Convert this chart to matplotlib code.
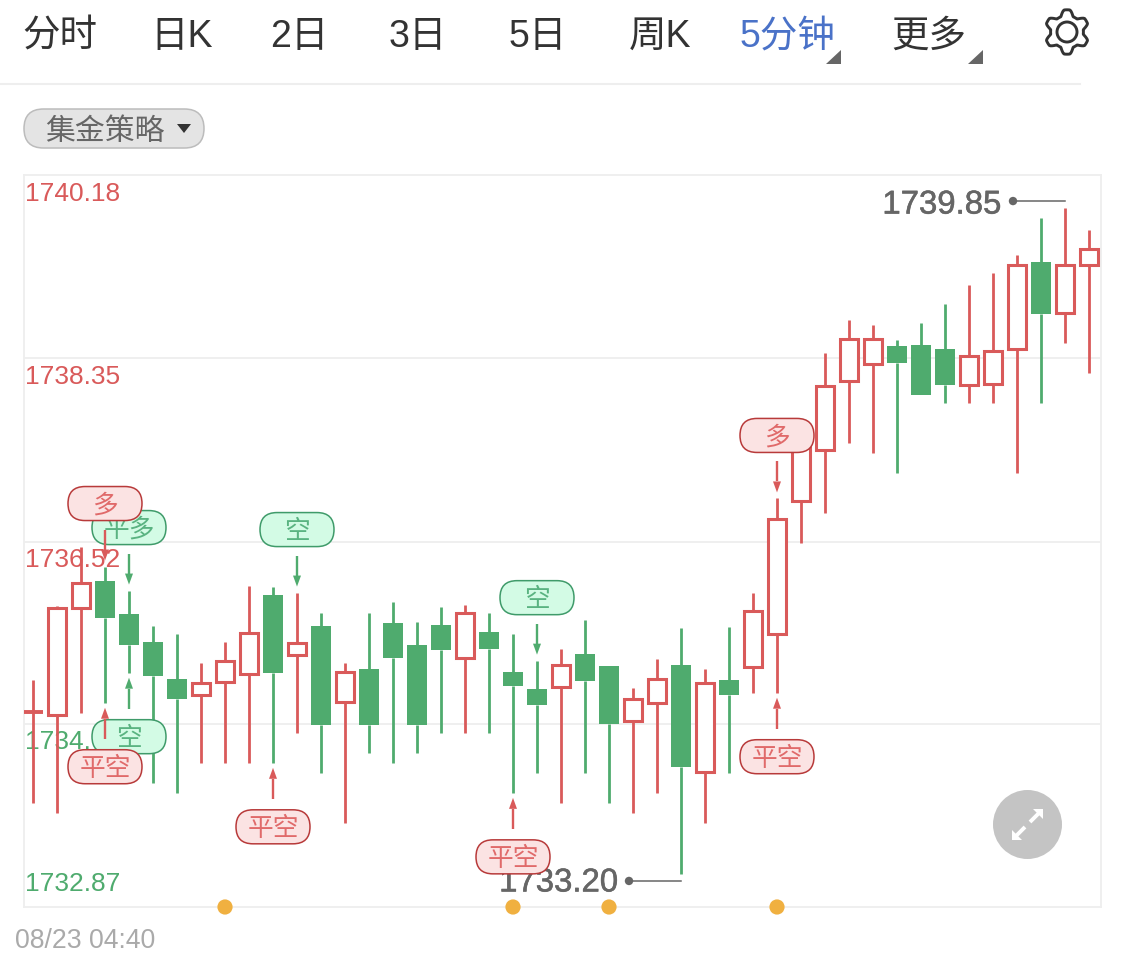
import numpy as np
import matplotlib
matplotlib.use("Agg")
import matplotlib.pyplot as plt
import matplotlib.patheffects as pe
from matplotlib.patches import FancyBboxPatch, Circle, Polygon, Rectangle

plt.rcParams['font.family'] = ['Noto Sans CJK SC', 'DejaVu Sans']

# ---- data ----
highs = [1735.14,1735.88,1736.47,1736.27,1736.03,1735.68,1735.60,1735.31,1735.52,1736.08,
         1736.07,1736.01,1735.81,1735.31,1735.81,1735.92,1735.72,1735.87,1735.89,1735.81,
         1735.60,1735.33,1735.45,1735.74,1735.28,1735.06,1735.35,1735.66,1735.25,1735.67,
         1736.01,1736.95,1737.53,1738.40,1738.73,1738.68,1738.53,1738.70,1738.89,1739.08,
         1739.20,1739.38,1739.75,1739.85,1739.63]
lows = [1733.91,1733.81,1734.81,1734.91,1735.21,1734.11,1734.01,1734.31,1734.31,1734.31,
        1734.31,1734.61,1734.21,1733.71,1734.41,1734.31,1734.41,1734.61,1734.61,1734.61,
        1734.01,1734.21,1733.91,1734.21,1733.91,1733.81,1734.01,1733.20,1733.71,1734.21,
        1735.01,1735.01,1736.51,1736.80,1737.50,1737.40,1737.20,1737.98,1737.90,1737.90,
        1737.90,1737.20,1737.90,1738.50,1738.20]
opens = [1734.82,1734.79,1735.86,1736.13,1735.80,1735.52,1735.15,1734.99,1735.12,1735.20,
         1735.99,1735.39,1735.68,1734.92,1735.25,1735.71,1735.49,1735.69,1735.36,1735.62,
         1735.22,1735.05,1735.07,1735.40,1735.28,1734.73,1734.91,1735.29,1734.22,1735.14,
         1735.27,1735.60,1736.92,1737.43,1738.12,1738.29,1738.47,1738.48,1738.44,1738.08,
         1738.09,1738.44,1739.31,1738.80,1739.28]
closes = [1734.82,1735.86,1736.11,1735.76,1735.49,1735.18,1734.95,1735.11,1735.33,1735.61,
          1735.21,1735.51,1734.69,1735.22,1734.69,1735.36,1734.69,1735.44,1735.81,1735.45,
          1735.08,1734.89,1735.29,1735.13,1734.70,1734.95,1735.15,1734.27,1735.11,1734.99,
          1735.83,1736.74,1737.48,1738.07,1738.54,1738.54,1738.30,1737.98,1738.08,1738.37,
          1738.42,1739.28,1738.79,1739.28,1739.44]
y_ticks = [1740.18, 1738.35, 1736.52, 1734.70, 1732.87]
y_tick_labels = ['1740.18', '1738.35', '1736.52', '1734.70', '1732.87']
tabs = ['分时', '日K', '2日', '3日', '5日', '周K', '5分钟', '更多']
strategy_label = '集金策略'
date_label = '08/23 04:40'
signal_idx = [4, 11, 21, 3, 31, 4, 3, 10, 20, 31]
signal_text = ['平多', '空', '空', '多', '多', '空', '平空', '平空', '平空', '平空']
signal_side = ['high', 'high', 'high', 'high', 'high', 'low', 'low', 'low', 'low', 'low']
signal_kind = ['g', 'g', 'g', 'r', 'r', 'g', 'r', 'r', 'r', 'r']
dot_idx = [8, 20, 24, 31]

# ---- style ----
RED, GREEN = '#d95a5a', '#4fab6e'
GRID = '#eeeeee'
W, H = 1125, 959
L, R, T, B = 24, 1101, 175, 907
CANDLE_W = 0.82
LATIN_CJK = ['Liberation Sans', 'Noto Sans CJK SC']

fig = plt.figure(figsize=(W / 100, H / 100), dpi=100, facecolor='white')
ax = fig.add_axes([L / W, 1 - B / H, (R - L) / W, (B - T) / H])
ax.set_xlim(-0.375, 44.5)
ax.set_ylim(y_ticks[-1], y_ticks[0])
ax.set_xticks([])
ax.set_yticks(y_ticks[1:-1])
ax.set_yticklabels([])
ax.tick_params(length=0)
ax.grid(axis='y', color=GRID, lw=1.3)
ax.set_axisbelow(True)
for s in ax.spines.values():
    s.set_color(GRID)
    s.set_linewidth(1.3)

# y labels inside the plot
for i, (v, t) in enumerate(zip(y_ticks, y_tick_labels)):
    col = RED if i < 3 else GREEN
    last = i == len(y_ticks) - 1
    ax.annotate(t, xy=(0, v), xycoords=('axes fraction', 'data'),
                xytext=(1, 16.5 if last else -13.5), textcoords='offset points',
                ha='left', va='center', fontsize=19, color=col,
                family=['Liberation Sans'], zorder=2)

# candles
for i, (o, h, l, c) in enumerate(zip(opens, highs, lows, closes)):
    up = c >= o
    col = RED if up else GREEN
    top, bot = max(o, c), min(o, c)
    ax.plot([i, i], [top, h], color=col, lw=2.0, solid_capstyle='butt', zorder=3)
    ax.plot([i, i], [l, bot], color=col, lw=2.0, solid_capstyle='butt', zorder=3)
    if top - bot < 0.02:
        ax.plot([i - CANDLE_W / 2, i + CANDLE_W / 2], [top, top], color=col, lw=2.8,
                solid_capstyle='butt', zorder=4)
    elif up:
        ax.add_patch(Rectangle((i - 0.375, bot), 0.75, top - bot, fc='white', ec=col,
                               lw=2.2, zorder=4, joinstyle='miter'))
    else:
        ax.add_patch(Rectangle((i - CANDLE_W / 2 - 0.02, bot), CANDLE_W + 0.04, top - bot,
                               fc=col, ec='none', zorder=4))

# overlay in pixel space for interface furniture and annotations
ov = fig.add_axes([0, 0, 1, 1], facecolor='none', zorder=5)
ov.set_xlim(0, W)
ov.set_ylim(H, 0)
ov.axis('off')


def px(i, price):
    p = ax.transData.transform((i, price))
    return ov.transData.inverted().transform(p)


# high / low labels
hi = int(np.argmax(highs))
lo = int(np.argmin(lows))
GREY = '#666666'
halo = [pe.withStroke(linewidth=0.4, foreground=GREY)]
x, y = px(hi, highs[hi])
ov.plot([x, x - 52], [y - 7, y - 7], color=GREY, lw=1.1, zorder=3)
ov.add_patch(Circle((x - 52, y - 7), 4.2, fc=GREY, ec='none', zorder=3))
ov.text(x - 64, y - 3, f'{highs[hi]:.2f}', ha='right', va='center', fontsize=23.7,
        color=GREY, family=['Liberation Sans'], zorder=3, path_effects=halo)
x, y = px(lo, lows[lo])
ov.plot([x, x - 52], [y + 7, y + 7], color=GREY, lw=1.1, zorder=3)
ov.add_patch(Circle((x - 52, y + 7), 4.2, fc=GREY, ec='none', zorder=3))
ov.text(x - 63, y + 9, f'{lows[lo]:.2f}', ha='right', va='center', fontsize=23.7,
        color=GREY, family=['Liberation Sans'], zorder=3, path_effects=halo)

# orange dots
for i in dot_idx:
    x, _ = px(i, y_ticks[-1])
    ov.add_patch(Circle((x, B), 7.6, fc='#f0b040', ec='none', zorder=3))

# strategy signals
SIG = {'r': dict(face='#fbe3e3', edge='#b83a3a', text='#e06a6a', arrow=RED),
       'g': dict(face='#d3fbe5', edge='#3f9b6a', text='#5ab381', arrow=GREEN)}
for n, (i, t, side, k) in enumerate(zip(signal_idx, signal_text, signal_side, signal_kind)):
    st = SIG[k]
    z = 4 + n * 0.01
    if side == 'high':
        x, y0 = px(i, highs[i])
        tip, start, cy = y0 - 6, y0 - 37, y0 - 63
        head = tip - 11
    else:
        x, y0 = px(i, lows[i])
        tip, start, cy = y0 + 5, y0 + 36, y0 + 64
        head = tip + 11
    ov.plot([x, x], [start, head], color=st['arrow'], lw=1.7, solid_capstyle='butt', zorder=z)
    ov.add_patch(Polygon([(x, tip), (x - 4, head), (x + 4, head)], closed=True,
                         fc=st['arrow'], ec='none', zorder=z))
    ov.add_patch(FancyBboxPatch((x - 20, cy), 40, 0.01,
                                boxstyle='round,pad=17,rounding_size=17',
                                fc=st['face'], ec=st['edge'], lw=1.1, zorder=z))
    ov.text(x, cy + 2, t, ha='center', va='center', fontsize=18.5, color=st['text'], zorder=z)

# toolbar
tab_x = [60, 182, 299, 418, 538, 660, 787, 929]
for t, x in zip(tabs, tab_x):
    col = '#4a72c8' if t == '5分钟' else '#333333'
    ov.text(x, 37, t, ha='center', va='center', fontsize=27, color=col, family=LATIN_CJK)
for xr in (841, 983):
    ov.add_patch(Polygon([(xr, 50), (xr, 64), (xr - 15, 64)], closed=True, fc='#666666', ec='none'))
ov.plot([0, 1080], [84, 84], color=GRID, lw=1.5)

# gear
cx, cy = 1067, 32
n = 6
ang = np.linspace(0, 2 * np.pi, 24 * n, endpoint=False)
prof = 19.3 + 2.9 * np.clip(1.5 * np.cos(n * (ang + np.pi / 2)), -1, 1)
ov.add_patch(Polygon(np.column_stack([cx + prof * np.cos(ang), cy + prof * np.sin(ang)]),
                     closed=True, fc='white', ec='#333333', lw=2.1, joinstyle='round'))
ov.add_patch(Circle((cx, cy), 10, fc='white', ec='#333333', lw=2.1))

# strategy pill
ov.add_patch(FancyBboxPatch((24 + 19.5, 128.5), 180 - 39, 0.01,
                            boxstyle='round,pad=19.5,rounding_size=19.5',
                            fc='#e4e4e4', ec='#bcbcbc', lw=1.1))
ov.text(105, 132, strategy_label, ha='center', va='center', fontsize=21.5, color='#666666')
ov.add_patch(Polygon([(177, 124), (191, 124), (184, 133)], closed=True, fc='#333333', ec='none'))

# date
ov.text(15, 941, date_label, ha='left', va='center', fontsize=19.2, color='#aaaaaa',
        family=['Liberation Sans'])

# expand button
bx, by = 1027.5, 824.5
ov.add_patch(Circle((bx, by), 34.5, fc='#c4c4c4', ec='none', zorder=6))
for sgn in (1, -1):
    a = np.array([bx + sgn * 2.5, by - sgn * 2.5])
    b = np.array([bx + sgn * 11, by - sgn * 11])
    ov.plot([a[0], b[0]], [a[1], b[1]], color='white', lw=2.8, solid_capstyle='butt', zorder=7)
    t = np.array([bx + sgn * 15.5, by - sgn * 15.5])
    ov.add_patch(Polygon([t, t + np.array([-sgn * 10, 0]), t + np.array([0, sgn * 10])], closed=True,
                         fc='white', ec='none', zorder=7))

fig.savefig('out.png', dpi=100, facecolor='white')
